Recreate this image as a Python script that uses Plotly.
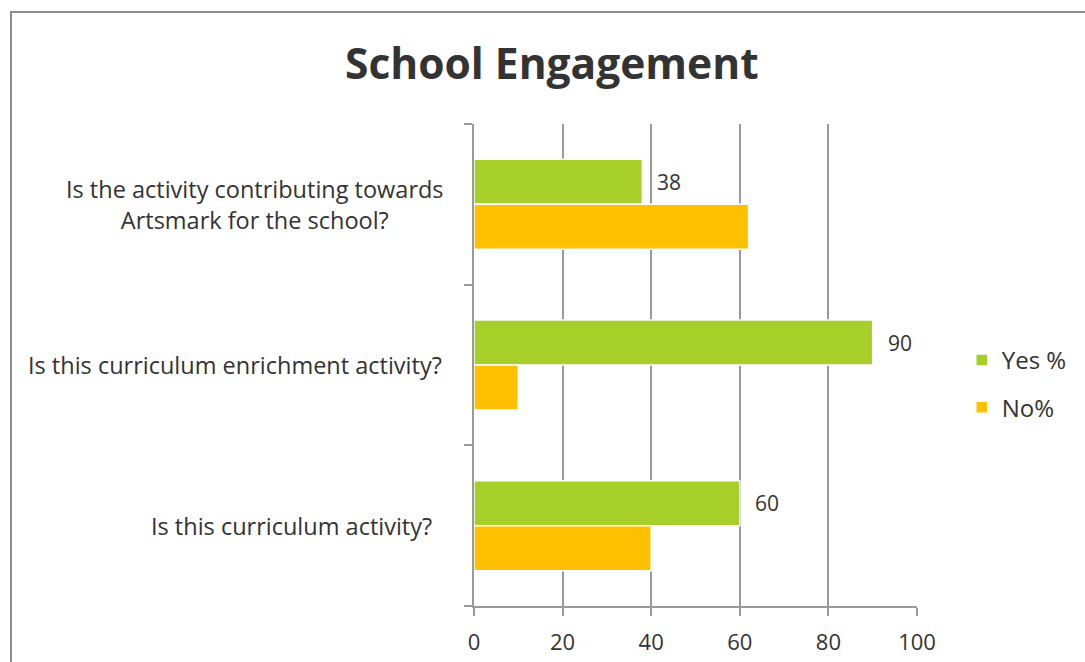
import plotly.graph_objects as go

# Survey questions (top to bottom) and response percentages
questions = [
    "Is the activity contributing towards<br>Artsmark for the school?",
    "Is this curriculum enrichment activity?",
    "Is this curriculum activity?",
]
yes_pct = [38, 90, 60]
no_pct = [62, 10, 40]
x_ticks = [0, 20, 40, 60, 80, 100]

GREEN = "#A6CF2A"
ORANGE = "#FFC000"
TEXT = "#333333"
GRID = "#9A9A9A"
FONT = "Open Sans"

# plot-area geometry in pixels (used for paper-coordinate placement)
PLOT_L, PLOT_R, PLOT_T, PLOT_B = 474, 917, 124, 606
PW, PH = PLOT_R - PLOT_L, PLOT_B - PLOT_T


def px_x(px):
    return (px - PLOT_L) / PW


def px_y(py):
    return (PLOT_B - py) / PH


fig = go.Figure()
fig.add_trace(go.Bar(
    y=list(range(len(questions))), x=yes_pct, orientation="h", name="Yes %",
    marker=dict(color=GREEN, line=dict(color="white", width=1.5)),
    legendgroup="yes",
))
fig.add_trace(go.Bar(
    y=list(range(len(questions))), x=no_pct, orientation="h", name="No%",
    marker=dict(color=ORANGE, line=dict(color="white", width=1.5)),
    legendgroup="no",
))

# value labels for the Yes bars
for i, v in enumerate(yes_pct):
    fig.add_annotation(
        x=v, y=i - 0.14, xref="x", yref="y", text=str(v), showarrow=False,
        xanchor="left", yanchor="middle", xshift=13,
        font=dict(family=FONT, size=21, color=TEXT),
    )

# category labels, centred line by line
label_shift = [-28, -30, -40]
for i, q in enumerate(questions):
    fig.add_annotation(
        x=0, y=i, xref="paper", yref="y", text=q, showarrow=False,
        xanchor="right", yanchor="middle", xshift=label_shift[i], align="center",
        font=dict(family=FONT, size=23.5, color=TEXT),
    )

# title
fig.add_annotation(
    x=px_x(552), y=px_y(62), xref="paper", yref="paper",
    text="<b>School Engagement</b>",
    showarrow=False, xanchor="center", yanchor="middle",
    font=dict(family=FONT, size=42.5, color=TEXT),
)

fig.update_layout(
    width=1085, height=662,
    margin=dict(l=PLOT_L, r=1085 - PLOT_R, t=PLOT_T, b=662 - PLOT_B),
    paper_bgcolor="white", plot_bgcolor="white",
    barmode="group", bargap=0.44, bargroupgap=0.0,
    font=dict(family=FONT, size=20, color=TEXT),
    showlegend=True,
    legend=dict(
        x=1.101, y=px_y(384), xanchor="left", yanchor="middle",
        font=dict(family=FONT, size=24, color=TEXT),
        tracegroupgap=13, itemwidth=30, bgcolor="rgba(0,0,0,0)",
    ),
    xaxis=dict(
        range=[0, 100], tickvals=x_ticks, ticktext=[str(t) for t in x_ticks],
        showgrid=True, gridcolor=GRID, gridwidth=1.5,
        showline=True, linecolor=GRID, linewidth=2,
        ticks="outside", ticklen=8, tickcolor=GRID, tickwidth=2,
        ticklabelstandoff=8, zeroline=False, automargin=False,
        tickfont=dict(family=FONT, size=22, color=TEXT),
    ),
    yaxis=dict(
        type="linear", range=[2.5, -0.5], tickvals=[-0.5, 0.5, 1.5, 2.5],
        showticklabels=False, showgrid=False, automargin=False,
        showline=True, linecolor=GRID, linewidth=2,
        ticks="outside", ticklen=8, tickcolor=GRID, tickwidth=2, zeroline=False,
    ),
)

# outer chart frame
fig.add_shape(
    type="rect", xref="paper", yref="paper",
    x0=px_x(11), x1=px_x(1100), y0=px_y(680), y1=px_y(12),
    line=dict(color="#8C8C8C", width=2), fillcolor="rgba(0,0,0,0)", layer="below",
)

fig.write_html("out.html")
